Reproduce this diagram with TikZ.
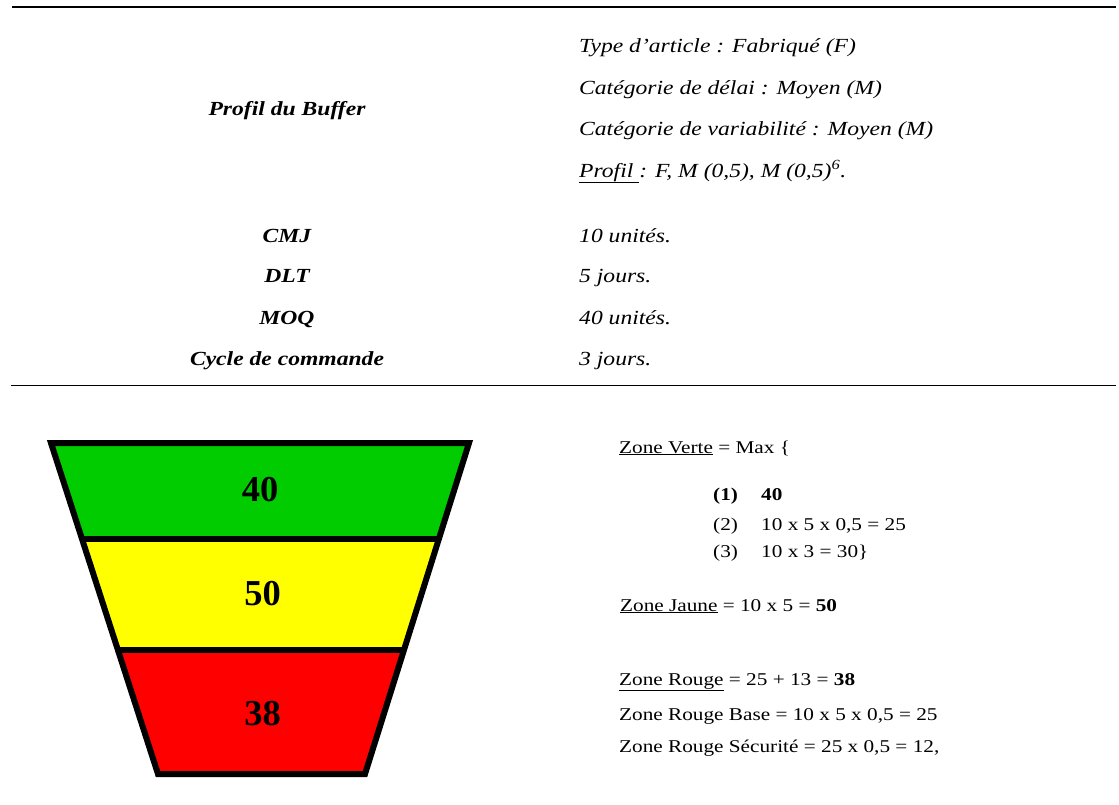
\documentclass[tikz,border=0pt]{standalone}
\usepackage{fontspec}
\usepackage{graphicx}
\setmainfont{Liberation Serif}
\definecolor{zgreen}{RGB}{0,204,0}
\definecolor{zyellow}{RGB}{255,255,0}
\definecolor{zred}{RGB}{255,0,0}
\newcommand{\sx}[1]{\scalebox{1.18}[1]{#1}}
\tikzset{
  rule/.style={line width=1.5pt},
  toptxt/.style={inner sep=0pt, anchor=base west, font=\fontsize{20}{24}\selectfont\itshape},
  lbl/.style={inner sep=0pt, anchor=base, font=\fontsize{20}{24}\selectfont\bfseries\itshape},
  calc/.style={inner sep=0pt, anchor=base west, font=\fontsize{18}{22}\selectfont},
  zonenum/.style={inner sep=0pt, anchor=base, font=\fontsize{36.5}{40}\selectfont\bfseries},
  funnelline/.style={line width=6pt, line join=miter}
}
\begin{document}
\begin{tikzpicture}[x=1pt,y=-1pt]
\useasboundingbox (0,0) rectangle (1119,804);
% table rules
\coordinate (r1a) at (12,7);
\coordinate (r1b) at (1116,7);
\coordinate (r2a) at (11,385.5);
\coordinate (r2b) at (1116,385.5);
\draw[rule] (r1a) -- (r1b);
\draw[rule] (r2a) -- (r2b);
% left labels
\node[lbl] (profil) at (287,115) {\sx{Profil du Buffer}};
\node[lbl] (cmj) at (287,242) {\sx{CMJ}};
\node[lbl] (dlt) at (287,282) {\sx{DLT}};
\node[lbl] (moq) at (287,324) {\sx{MOQ}};
\node[lbl] (cycle) at (287,365) {\sx{Cycle de commande}};
% right values
\node[toptxt] (t1) at (579,52) {\sx{Type d’article : Fabriqué (F)}};
\node[toptxt] (t2) at (579,94) {\sx{Catégorie de délai : Moyen (M)}};
\node[toptxt] (t3) at (579,135) {\sx{Catégorie de variabilité : Moyen (M)}};
\node[toptxt] (t4) at (579,177) {\sx{\underline{Profil }: F, M (0,5), M (0,5)\textsuperscript{6}.}};
\node[toptxt] (v1) at (579,242) {\sx{10 unités.}};
\node[toptxt] (v2) at (579,282) {\sx{5 jours.}};
\node[toptxt] (v3) at (579,324) {\sx{40 unités.}};
\node[toptxt] (v4) at (579,365) {\sx{3 jours.}};
% funnel
\coordinate (tl) at (51,443);
\coordinate (tr) at (469,443);
\coordinate (ml1) at (81.9,538.5);
\coordinate (mr1) at (439,538.5);
\coordinate (ml2) at (117.9,650);
\coordinate (mr2) at (404,650);
\coordinate (bl) at (158,774);
\coordinate (br) at (365,774);
\fill[zgreen] (tl) -- (tr) -- (mr1) -- (ml1) -- cycle;
\fill[zyellow] (ml1) -- (mr1) -- (mr2) -- (ml2) -- cycle;
\fill[zred] (ml2) -- (mr2) -- (br) -- (bl) -- cycle;
\draw[funnelline] (tl) -- (tr) -- (br) -- (bl) -- cycle;
\draw[funnelline] (ml1) -- (mr1);
\draw[funnelline] (ml2) -- (mr2);
\node[zonenum] (n40) at (260,501.7) {40};
\node[zonenum] (n50) at (262.5,605) {50};
\node[zonenum] (n38) at (262.5,725) {38};
% calculations
\node[calc] (zv) at (619,453) {\sx{\underline{Zone Verte} = Max \{}};
\node[calc] (i1) at (713,500) {\sx{\textbf{(1)}}};
\node[calc] (i1v) at (761,500) {\sx{\textbf{40}}};
\node[calc] (i2) at (713,530) {\sx{(2)}};
\node[calc] (i2v) at (761,530) {\sx{10 x 5 x 0,5 = 25}};
\node[calc] (i3) at (713,557) {\sx{(3)}};
\node[calc] (i3v) at (761,557) {\sx{10 x 3 = 30\}}};
\node[calc] (zj) at (620,611) {\sx{\underline{Zone Jaune} = 10 x 5 = \textbf{50}}};
\node[calc] (zr) at (619,685) {\sx{\underline{Zone Rouge} = 25 + 13 = \textbf{38}}};
\node[calc] (zrb) at (619,720) {\sx{Zone Rouge Base = 10 x 5 x 0,5 = 25}};
\node[calc] (zrs) at (619,752) {\sx{Zone Rouge Sécurité = 25 x 0,5 = 12,}};
\end{tikzpicture}
\end{document}
